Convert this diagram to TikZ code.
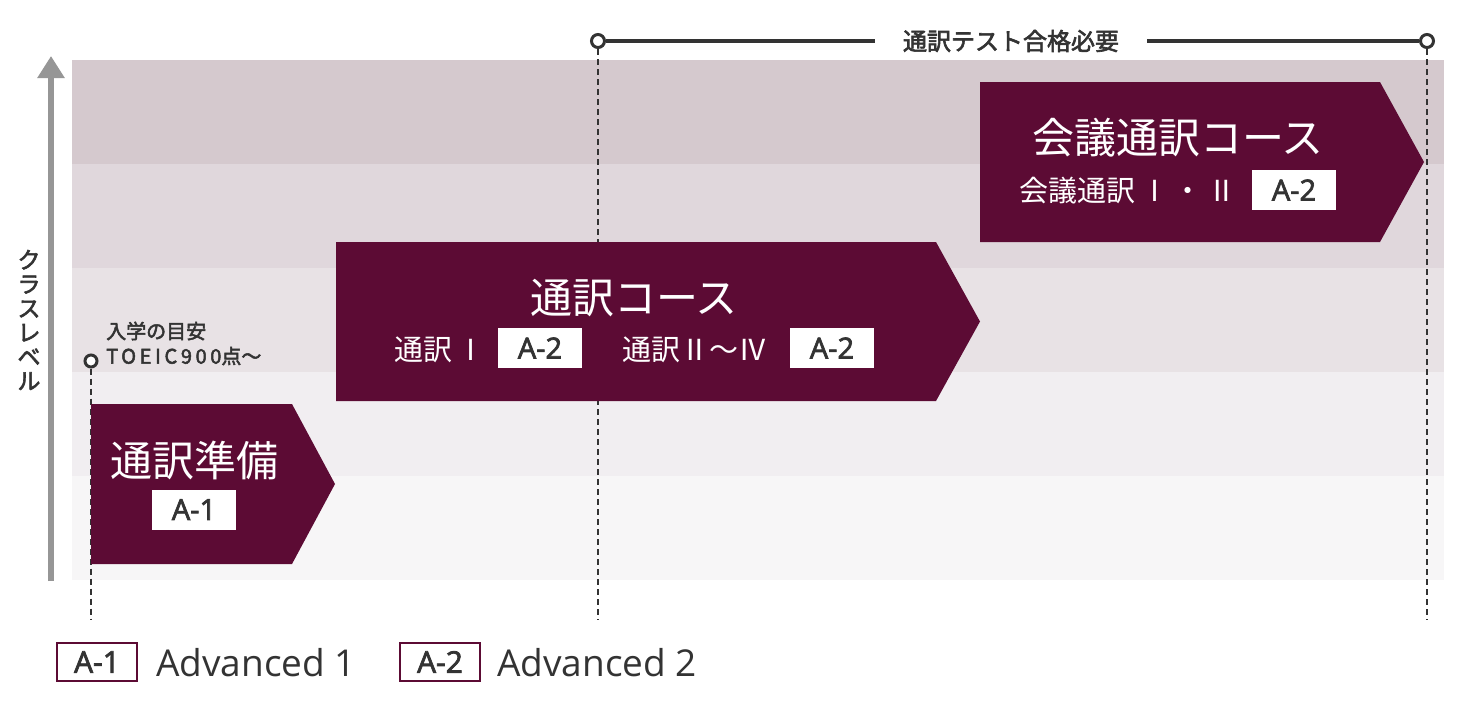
\documentclass[tikz,border=0pt]{standalone}
\usepackage{fontspec}
\setmainfont{Open Sans}
\newfontfamily\jp{Noto Sans CJK JP}
\newfontfamily\jpb{Noto Sans CJK JP}[FakeBold=2.5]
\newfontfamily\tagf{Open Sans}[FakeBold=2.5]
\usetikzlibrary{arrows.meta}
\definecolor{maroon}{RGB}{92,11,52}
\definecolor{bandA}{RGB}{213,201,206}
\definecolor{bandB}{RGB}{224,215,220}
\definecolor{bandC}{RGB}{232,226,229}
\definecolor{bandD}{RGB}{241,238,241}
\definecolor{bandE}{RGB}{247,246,247}
\definecolor{txt}{RGB}{51,51,51}
\definecolor{dimc}{RGB}{51,51,51}
\definecolor{axisgray}{RGB}{150,150,150}
\tikzset{
  course/.style={fill=maroon},
  title/.style={text=white, font=\jp\fontsize{42}{46}\selectfont, inner sep=0},
  sub/.style={text=white, font=\jp\fontsize{29}{32}\selectfont, inner sep=0},
  tag/.style={fill=white, text=txt, minimum width=84, minimum height=40, inner sep=0, font=\tagf\fontsize{29}{32}\selectfont},
  legtag/.style={draw=maroon, line width=2, fill=white, text=txt, minimum width=80, minimum height=38, inner sep=0, font=\tagf\fontsize{30}{32}\selectfont},
  legtext/.style={text=txt, font=\fontsize{37}{40}\selectfont, anchor=base west, inner sep=0},
  dim/.style={line width=4, draw=dimc},
  ring/.style={circle, draw=dimc, line width=3, fill=white, minimum size=13, inner sep=0},
  guide/.style={draw=dimc, line width=1.6, dash pattern=on 6 off 4},
  note/.style={text=txt, font=\jpb\fontsize{20}{22}\selectfont, inner sep=0, anchor=west},
  toplabel/.style={text=txt, font=\jpb\fontsize{24}{26}\selectfont, inner ysep=0, inner xsep=28},
}
\begin{document}
\begin{tikzpicture}[x=1pt,y=-1pt]
\useasboundingbox (0,0) rectangle (1464,704);
\fill[white] (0,0) rectangle (1464,704);
% bands
\fill[bandA] (72,60) rectangle (1444,164);
\fill[bandB] (72,164) rectangle (1444,268);
\fill[bandC] (72,268) rectangle (1444,372);
\fill[bandD] (72,372) rectangle (1444,476);
\fill[bandE] (72,476) rectangle (1444,580);
% rings
\node[ring] (s1) at (598,41) {};
\node[ring] (s2) at (1427,41) {};
\node[ring, minimum size=12] (s0) at (91,361) {};
% guides
\coordinate (g1) at (598,620);
\coordinate (g2) at (1427,620);
\coordinate (g0) at (91,620);
\draw[guide] (s1) -- (g1);
\draw[guide] (s2) -- (g2);
\draw[guide] (s0) -- (g0);
% axis
\coordinate (axb) at (51,581);
\coordinate (axt) at (51,56);
\draw[axisgray, line width=6, -{Triangle[width=26,length=22]}] (axb) -- (axt);
\node[text=txt, font=\jpb\fontsize{23}{24.2}\selectfont, align=center, inner sep=0] (axl) at (29,320) {ク\\ラ\\ス\\レ\\ベ\\ル};
% courses
\fill[course] (91,404) -- (292,404) -- (335,484) -- (292,564) -- (91,564) -- cycle;
\fill[course] (336,242) -- (936,242) -- (980,321.5) -- (936,401) -- (336,401) -- cycle;
\fill[course] (980,82) -- (1380,82) -- (1424,162) -- (1380,242) -- (980,242) -- cycle;
% course texts
\node[title] (c1) at (194,460) {通訳準備};
\node[tag] (c1t) at (194,509.5) {A-1};
\node[title] (c2) at (634,298) {通訳コース};
\node[sub] (c2a) at (440,350) {通訳\,Ⅰ};
\node[tag] (c2at) at (540,348) {A-2};
\node[sub] (c2b) at (695,350) {通訳Ⅱ〜Ⅳ};
\node[tag] (c2bt) at (832,348) {A-2};
\node[title] (c3) at (1178,138) {会議通訳コース};
\node[sub] (c3a) at (1128,191) {会議通訳\,Ⅰ\,・\,Ⅱ};
\node[tag] (c3at) at (1294,190) {A-2};
% entry note
\node[note] (n1) at (106,331) {入学の目安};
\node[note] (n2) at (106,356) {{\addfontfeature{LetterSpace=18}TOEIC900}点〜};
% dimension line
\node[toplabel] (tl) at (1011,41) {通訳テスト合格必要};
\draw[dim] (s1) -- (tl);
\draw[dim] (tl) -- (s2);
% legend
\node[legtag] (l1) at (97,662) {A-1};
\node[legtext] (l1t) at (156,676) {Advanced 1};
\node[legtag] (l2) at (440,662) {A-2};
\node[legtext] (l2t) at (497,676) {Advanced 2};
\end{tikzpicture}
\end{document}
